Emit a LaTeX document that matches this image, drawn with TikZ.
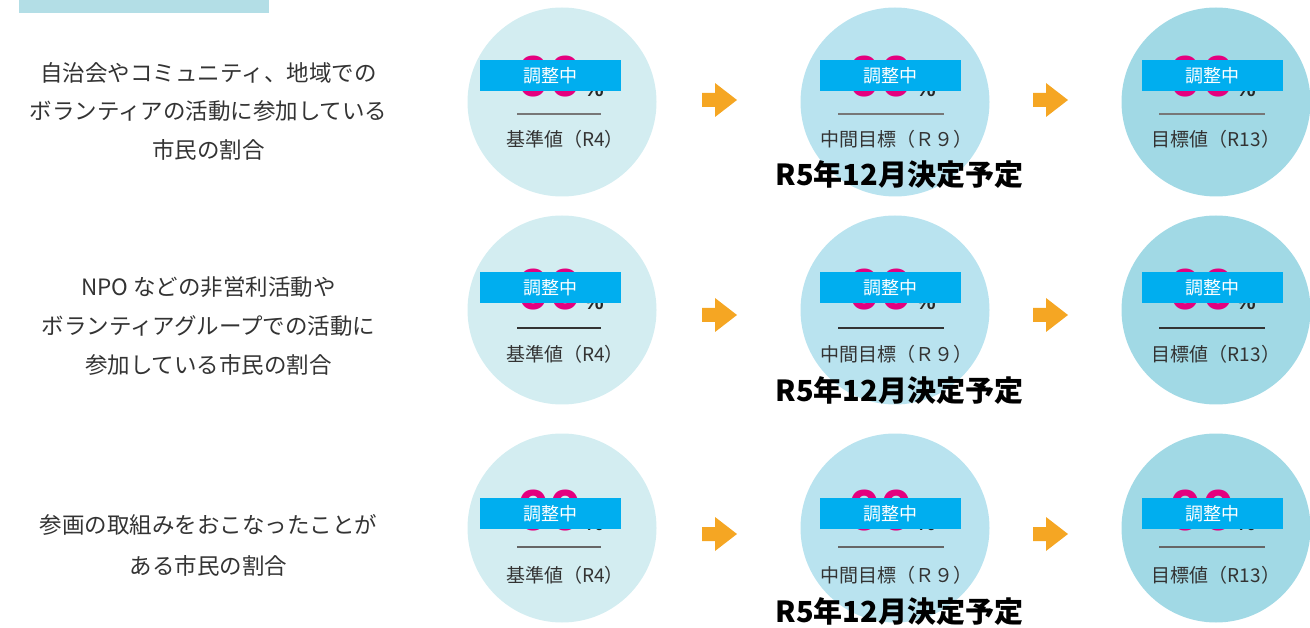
\documentclass[tikz,border=0pt]{standalone}
\usepackage{fontspec}
\newfontfamily\jp{Noto Sans CJK JP}
\newfontfamily\dig{Liberation Sans}
\definecolor{topbar}{HTML}{B3DEE6}
\definecolor{cA}{HTML}{D3EDF1}
\definecolor{cB}{HTML}{B9E3EF}
\definecolor{cC}{HTML}{A1D9E5}
\definecolor{bann}{HTML}{00AEEF}
\definecolor{pinkd}{HTML}{E4007F}
\definecolor{txt}{HTML}{333333}
\definecolor{arr}{HTML}{F5A623}
\definecolor{lnA}{HTML}{777777}
\definecolor{lnB}{HTML}{333333}
\definecolor{lnC}{HTML}{666666}
\tikzset{
 circ/.style={circle, inner sep=0pt, minimum size=189pt},
 bannerbox/.style={fill=bann, minimum width=141pt, minimum height=31pt, inner sep=0pt, text=white, font={\jp\fontsize{18}{18}\selectfont}},
 digits/.style={anchor=base, text=pinkd, inner sep=0pt, font={\dig\bfseries\fontsize{58}{58}\selectfont}},
 pct/.style={anchor=base west, inner sep=0pt, text=black!85, font={\dig\bfseries\fontsize{22}{22}\selectfont}},
 lbl/.style={anchor=base, inner sep=0pt, text=txt, font={\jp\fontsize{19}{19}\selectfont}},
 desc/.style={anchor=base, inner sep=0pt, text=txt, font={\jp\fontsize{22.5}{22.5}\selectfont}},
 due/.style={anchor=base, inner sep=0pt, text=black, font={\jp\bfseries\fontsize{29}{29}\selectfont}},
 arrowfill/.style={fill=arr},
 sepline/.style={line width=1.5pt},
}
% #1 name, #2 circle y, #3 banner top, #4 digit baseline, #5 line y, #6 label baseline, #7 arrow y, #8 line colour, #9 due baseline
\newcommand\rowgroup[9]{%
 \node[circ, fill=cA] (ca#1) at (562,#2) {};
 \node[circ, fill=cB] (cb#1) at (895,#2) {};
 \node[circ, fill=cC] (cc#1) at (1216,#2) {};
 \node[digits] (da#1) at (549.5,#4) {00};
 \node[digits] (db#1) at (880.5,#4) {00};
 \node[digits] (dc#1) at (1202,#4) {00};
 \node[pct] (pa#1) at (584,#4) {\%};
 \node[pct] (pb#1) at (916,#4) {\%};
 \node[pct] (pc#1) at (1236,#4) {\%};
 \node[bannerbox] (ba#1) at (550.5,#3+15.5) {調整中};
 \node[bannerbox] (bb#1) at (890.5,#3+15.5) {調整中};
 \node[bannerbox] (bc#1) at (1212,#3+15.5) {調整中};
 \draw[sepline, draw=#8] (517,#5) -- (601,#5);
 \draw[sepline, draw=#8] (838,#5) -- (944,#5);
 \draw[sepline, draw=#8] (1159,#5) -- (1265,#5);
 \node[lbl] (la#1) at (565,#6) {基準値（R4）};
 \node[lbl] (lb#1) at (896,#6) {中間目標（Ｒ９）};
 \node[lbl] (lc#1) at (1216,#6) {目標値（R13）};
 \node[due] (du#1) at (899.5,#9) {R5年12月決定予定};
 \fill[arrowfill] (702,#7-7) -- (715,#7-7) -- (715,#7-17) -- (737,#7) -- (715,#7+17) -- (715,#7+7) -- (702,#7+7) -- cycle;
 \fill[arrowfill] (1033,#7-7) -- (1046,#7-7) -- (1046,#7-17) -- (1068,#7) -- (1046,#7+17) -- (1046,#7+7) -- (1033,#7+7) -- cycle;
}
\begin{document}
\begin{tikzpicture}[x=1pt,y=-1pt]
\useasboundingbox (0,0) rectangle (1310,628);
\fill[topbar] (19,0) rectangle (269,13);
\rowgroup{1}{102}{60}{97}{114}{147}{100}{lnA}{186}
\rowgroup{2}{310}{272}{310}{328}{362}{315}{lnB}{402}
\rowgroup{3}{528}{498}{530}{547}{582}{534}{lnC}{622}
\node[desc] (t11) at (208.5,81.5) {自治会やコミュニティ、地域での};
\node[desc] (t12) at (208.5,119.5) {ボランティアの活動に参加している};
\node[desc] (t13) at (208.5,158.5) {市民の割合};
\node[desc] (t21) at (208.5,295.5) {NPO などの非営利活動や};
\node[desc] (t22) at (208.5,334.5) {ボランティアグループでの活動に};
\node[desc] (t23) at (208.5,373.5) {参加している市民の割合};
\node[desc] (t31) at (208.5,533.5) {参画の取組みをおこなったことが};
\node[desc] (t32) at (208.5,574.5) {ある市民の割合};
\end{tikzpicture}
\end{document}
